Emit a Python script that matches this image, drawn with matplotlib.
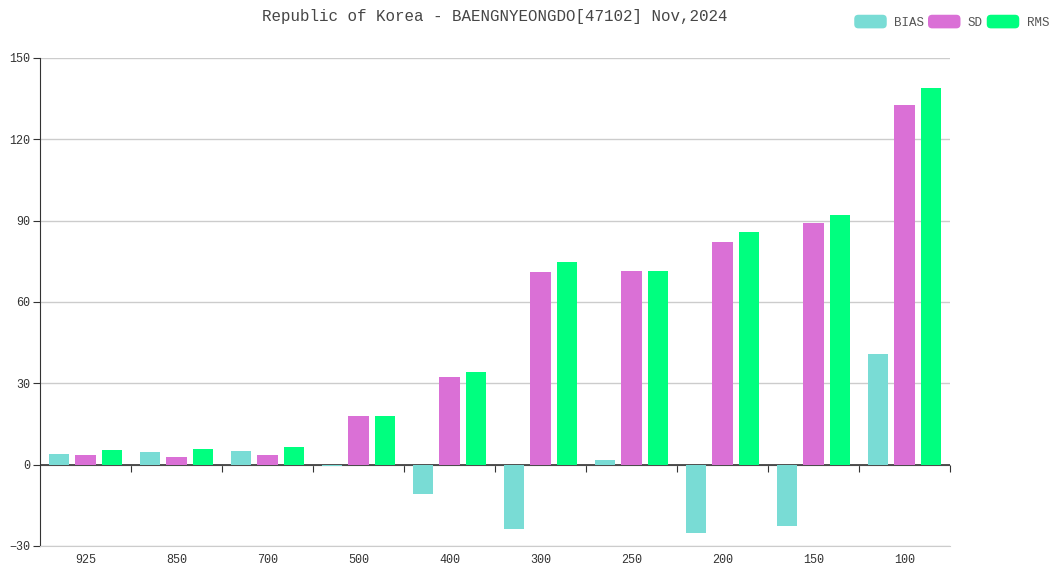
import matplotlib
matplotlib.use("Agg")
import matplotlib.pyplot as plt
from matplotlib.patches import FancyBboxPatch
from matplotlib.legend_handler import HandlerPatch
import numpy as np

# pressure levels (hPa)
levels = ['925', '850', '700', '500', '400', '300', '250', '200', '150', '100']
bias = [4.0, 4.8, 5.2, -0.6, -10.8, -23.6, 1.6, -25.3, -22.5, 40.9]
sd = [3.7, 2.9, 3.7, 18.0, 32.4, 71.1, 71.5, 82.2, 89.2, 132.8]
rms = [5.5, 5.6, 6.4, 18.1, 34.3, 74.8, 71.5, 85.9, 92.1, 138.8]

series_names = ['BIAS', 'SD', 'RMS']
colors = ['#79dcd5', '#da70d6', '#00ff7f']

plt.rcParams['font.family'] = ['Liberation Mono', 'DejaVu Sans Mono']


class RoundHandler(HandlerPatch):
    def create_artists(self, legend, orig_handle, xdescent, ydescent,
                       width, height, fontsize, trans):
        p = FancyBboxPatch((-xdescent, -ydescent), width, height,
                           boxstyle='round,pad=0,rounding_size=3',
                           facecolor=orig_handle.get_facecolor(),
                           edgecolor='none', transform=trans)
        return [p]


fig = plt.figure(figsize=(10.58, 5.71), dpi=100)
ax = fig.add_axes([40/1058, 1-546/571, 910/1058, (546-58)/571])

x = np.arange(len(levels))
w = 0.22
off = 0.286
bars = []
for k, (vals, name, c) in enumerate(zip([bias, sd, rms], series_names, colors)):
    b = ax.bar(x + (k-1)*off, vals, width=w, color=c, label=name, zorder=3)
    bars.append(b)

ax.set_xlim(-0.5, len(levels)-0.5)
ax.set_ylim(-30, 150)
ax.set_yticks([-30, 0, 30, 60, 90, 120, 150])
ax.grid(axis='y', color='#cccccc', linewidth=1, zorder=0)
ax.axhline(0, color='#333333', linewidth=1.2, zorder=2)

for s in ['top', 'right']:
    ax.spines[s].set_visible(False)
ax.spines['left'].set_color('#333333')
ax.spines['bottom'].set_color('#cccccc')
ax.tick_params(axis='y', length=5, color='#333333', labelsize=8.5, labelcolor='#333333', pad=2)
ax.set_xticks(x)
ax.set_xticklabels(levels)
ax.tick_params(axis='x', length=0, labelsize=8.5, labelcolor='#333333', pad=6)

# ticks at category boundaries on the zero line
sec = ax.secondary_xaxis(0, transform=ax.transData)
sec.set_xticks(np.arange(0.5, len(levels), 1))
sec.set_xticklabels([])
sec.spines['bottom'].set_visible(False)
sec.tick_params(length=5, color='#333333')

fig.text(495/1058, 1-17/571, 'Republic of Korea - BAENGNYEONGDO[47102] Nov,2024',
         ha='center', va='center', fontsize=11.4, color='#464646')

handles = [b.patches[0] for b in bars]
ax.legend(handles, series_names, loc='upper right', bbox_to_anchor=(1058/1058, 1-6/571),
          bbox_transform=fig.transFigure, ncol=3, frameon=False,
          handlelength=2.6, handleheight=1.3, handletextpad=0.6,
          columnspacing=0.3, fontsize=9, labelcolor='#555555',
          borderpad=0.2, handler_map={b.patches[0]: RoundHandler() for b in bars})

fig.savefig('out.png', dpi=100)
